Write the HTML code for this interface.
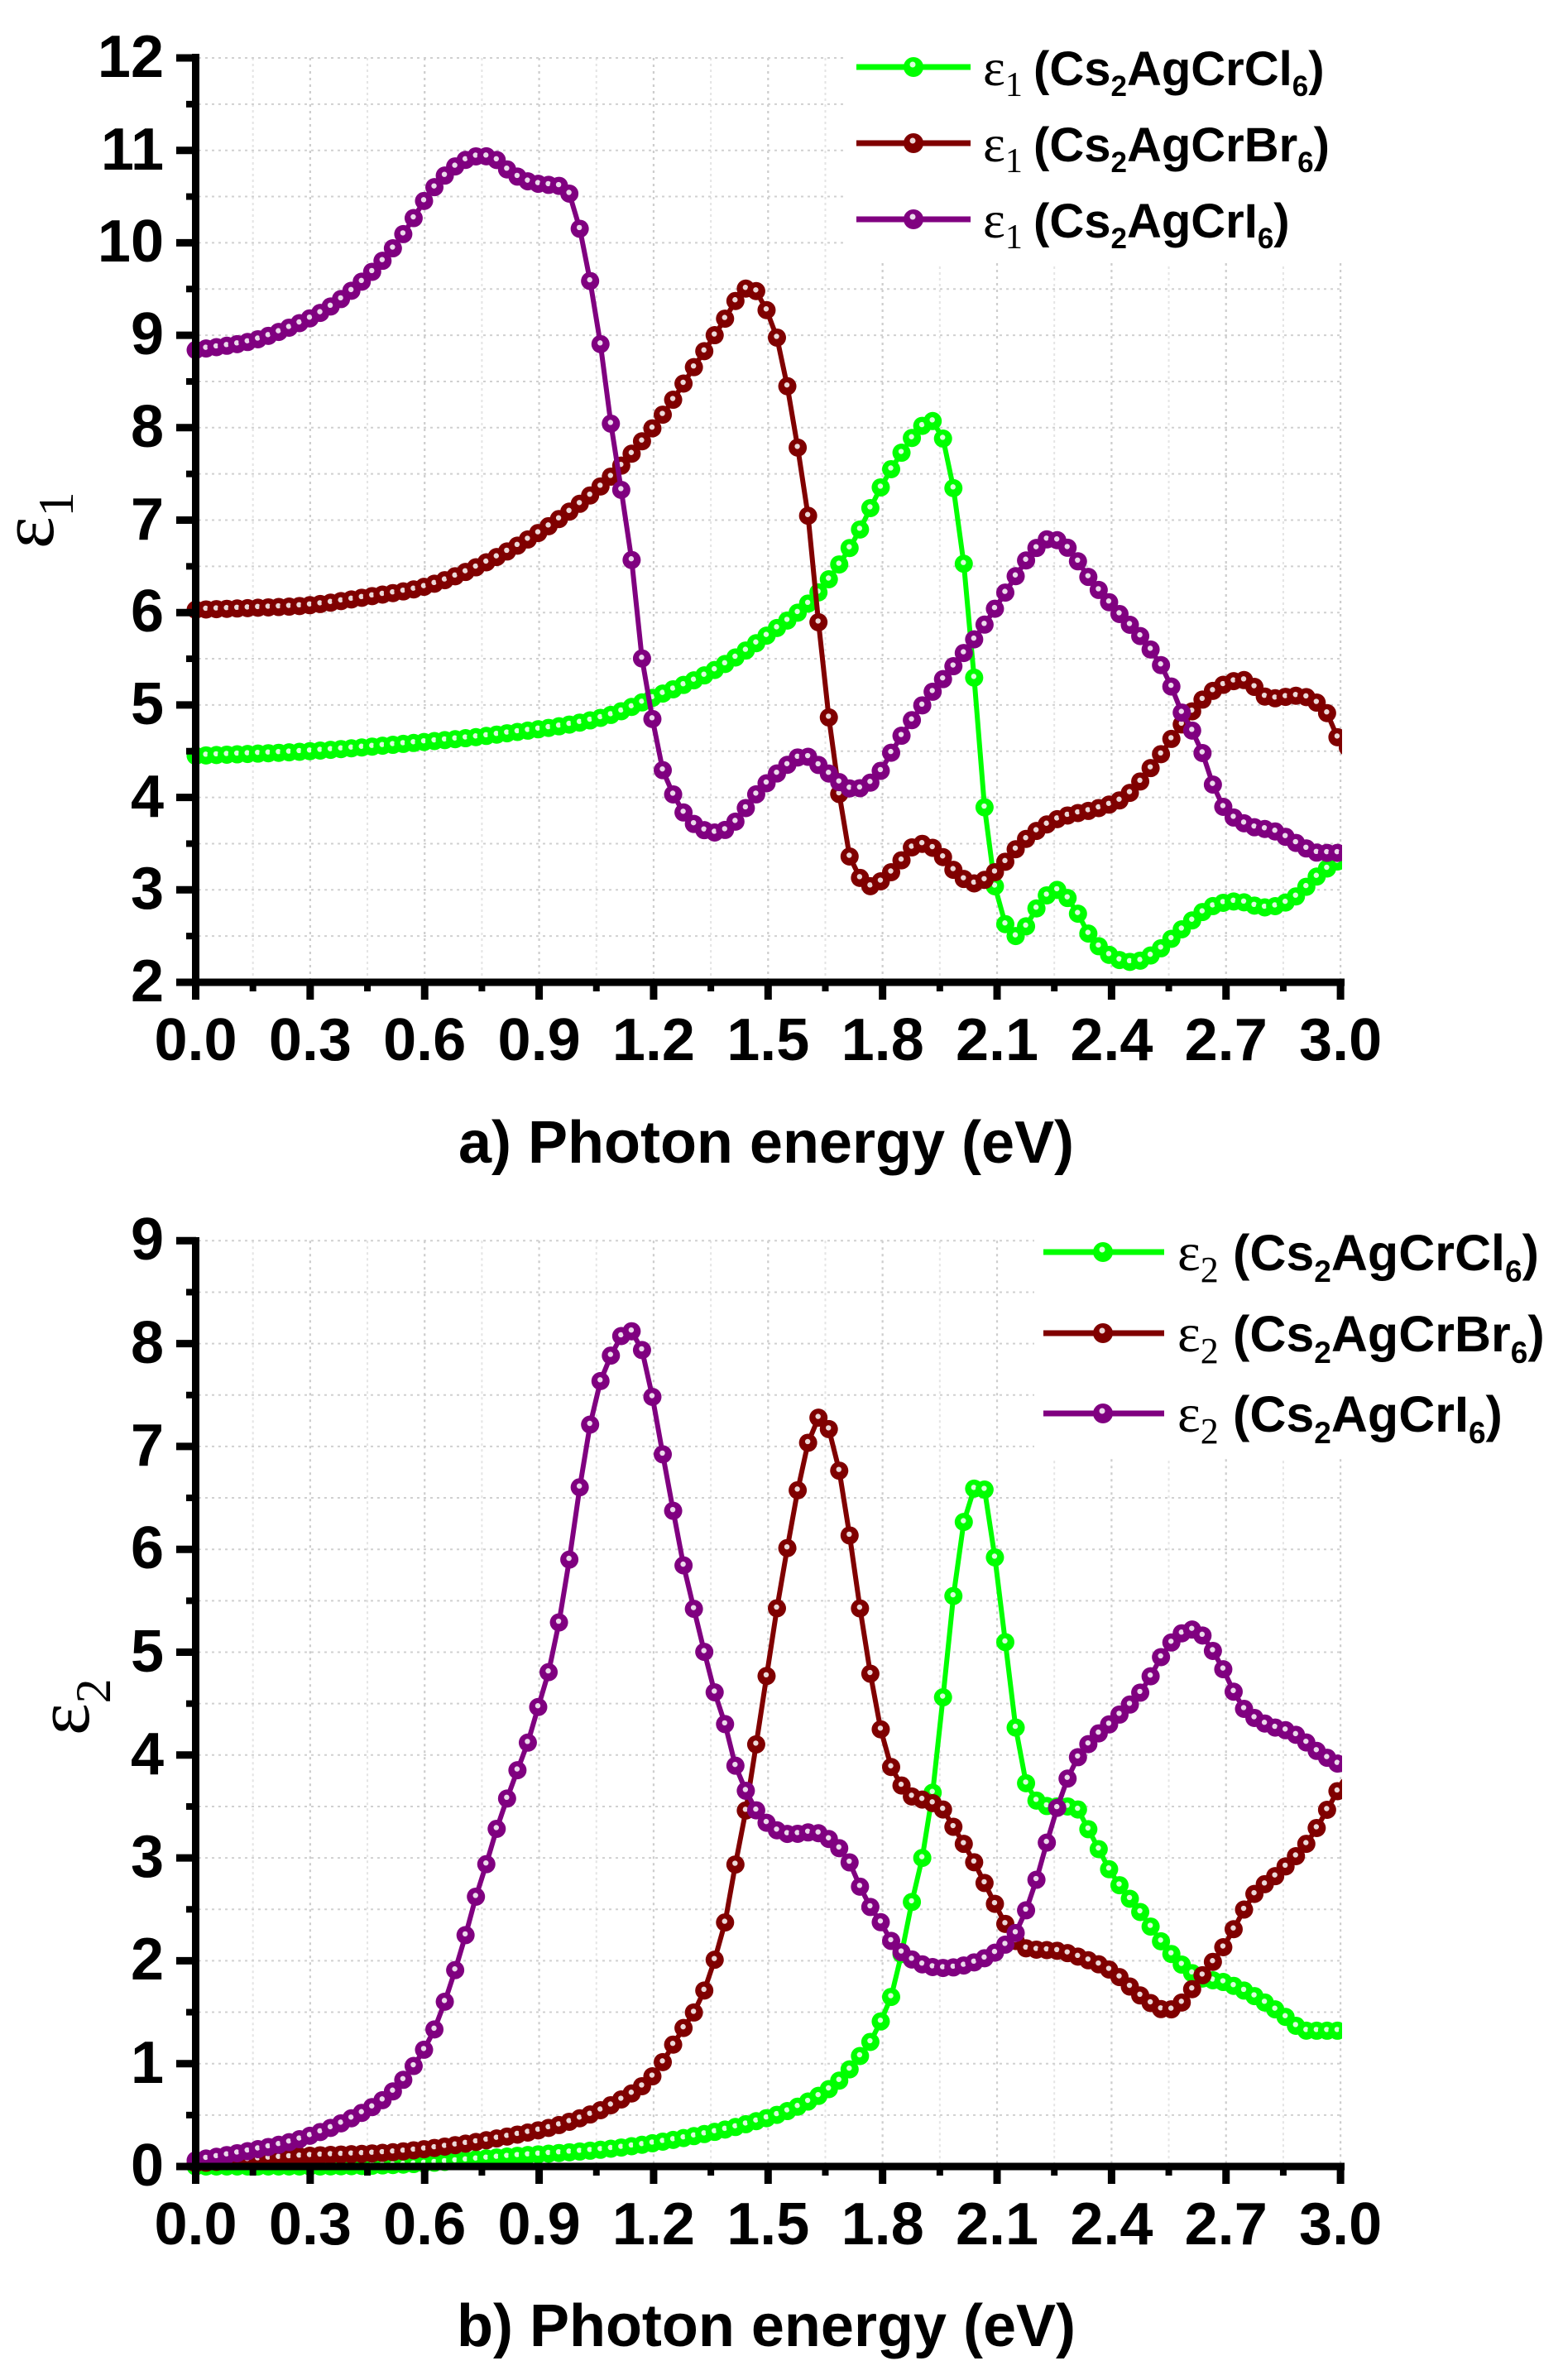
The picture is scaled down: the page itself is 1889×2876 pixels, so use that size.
<!DOCTYPE html>
<html>
<head>
<meta charset="utf-8">
<style>
html,body{margin:0;padding:0;background:#fff;width:1889px;height:2876px;overflow:hidden;}
svg{display:block;}
</style>
</head>
<body>
<svg id="s" width="1889" height="2876" viewBox="0 0 1889 2876" xmlns="http://www.w3.org/2000/svg" font-family="'Liberation Sans', Arial, sans-serif">
<defs>
<clipPath id="cpA"><rect x="150" y="0" width="1472" height="1300"/></clipPath>
<clipPath id="cpB"><rect x="150" y="1400" width="1472" height="1300"/></clipPath>
</defs>
<rect width="1889" height="2876" fill="#fff"/>
<g id="grid"></g>
<!-- legend backgrounds -->
<rect x="1020" y="62" width="610" height="256" fill="#fff"/>
<rect x="1250" y="1492" width="639" height="270" fill="#fff"/>
<g id="dataA" clip-path="url(#cpA)"></g>
<g id="dataB" clip-path="url(#cpB)"></g>
<g id="axes"></g>

<!-- Panel a axis lines -->
<line x1="236.5" y1="65" x2="236.5" y2="1191" stroke="#000" stroke-width="9"/>
<line x1="232" y1="1187" x2="1625" y2="1187" stroke="#000" stroke-width="9"/>
<!-- Panel b axis lines -->
<line x1="236.5" y1="1495" x2="236.5" y2="2622" stroke="#000" stroke-width="9"/>
<line x1="232" y1="2618" x2="1625" y2="2618" stroke="#000" stroke-width="9"/>

<!-- Panel a y tick labels -->
<g font-size="72" font-weight="bold" text-anchor="end" fill="#000">
<text x="198" y="1210">2</text>
<text x="198" y="1098">3</text>
<text x="198" y="987">4</text>
<text x="198" y="875">5</text>
<text x="198" y="763">6</text>
<text x="198" y="652">7</text>
<text x="198" y="540">8</text>
<text x="198" y="428">9</text>
<text x="198" y="316">10</text>
<text x="198" y="205">11</text>
<text x="198" y="93">12</text>
</g>
<!-- Panel a x tick labels -->
<g font-size="72" font-weight="bold" text-anchor="middle" fill="#000">
<text x="236.5" y="1281">0.0</text>
<text x="374.9" y="1281">0.3</text>
<text x="513.2" y="1281">0.6</text>
<text x="651.6" y="1281">0.9</text>
<text x="789.9" y="1281">1.2</text>
<text x="928.3" y="1281">1.5</text>
<text x="1066.7" y="1281">1.8</text>
<text x="1205" y="1281">2.1</text>
<text x="1343.4" y="1281">2.4</text>
<text x="1481.7" y="1281">2.7</text>
<text x="1620.1" y="1281">3.0</text>
</g>
<text x="926" y="1405" font-size="72" font-weight="bold" text-anchor="middle">a) Photon energy (eV)</text>
<text transform="translate(64,663) rotate(-90)" font-family="'Liberation Serif', serif" font-size="92">ε<tspan font-size="60" dy="24">1</tspan></text>

<!-- Panel b y tick labels -->
<g font-size="72" font-weight="bold" text-anchor="end" fill="#000">
<text x="198" y="2641">0</text>
<text x="198" y="2517">1</text>
<text x="198" y="2392">2</text>
<text x="198" y="2268">3</text>
<text x="198" y="2144">4</text>
<text x="198" y="2020">5</text>
<text x="198" y="1895">6</text>
<text x="198" y="1771">7</text>
<text x="198" y="1647">8</text>
<text x="198" y="1522">9</text>
</g>
<g font-size="72" font-weight="bold" text-anchor="middle" fill="#000">
<text x="236.5" y="2712">0.0</text>
<text x="374.9" y="2712">0.3</text>
<text x="513.2" y="2712">0.6</text>
<text x="651.6" y="2712">0.9</text>
<text x="789.9" y="2712">1.2</text>
<text x="928.3" y="2712">1.5</text>
<text x="1066.7" y="2712">1.8</text>
<text x="1205" y="2712">2.1</text>
<text x="1343.4" y="2712">2.4</text>
<text x="1481.7" y="2712">2.7</text>
<text x="1620.1" y="2712">3.0</text>
</g>
<text x="926" y="2835" font-size="72" font-weight="bold" text-anchor="middle">b) Photon energy (eV)</text>
<text transform="translate(107,2097) rotate(-90)" font-family="'Liberation Serif', serif" font-size="92">ε<tspan font-size="60" dy="26">2</tspan></text>

<!-- Legend a -->
<g>
<line x1="1035" y1="81" x2="1173" y2="81" stroke="#00ff00" stroke-width="7"/>
<circle cx="1104" cy="81" r="12" fill="#00ff00"/><circle cx="1103" cy="78" r="3.5" fill="#fff" fill-opacity="0.85"/>
<line x1="1035" y1="173" x2="1173" y2="173" stroke="#800000" stroke-width="7"/>
<circle cx="1104" cy="173" r="12" fill="#800000"/><circle cx="1103" cy="170" r="3.5" fill="#fff" fill-opacity="0.85"/>
<line x1="1035" y1="265" x2="1173" y2="265" stroke="#800080" stroke-width="7"/>
<circle cx="1104" cy="265" r="12" fill="#800080"/><circle cx="1103" cy="262" r="3.5" fill="#fff" fill-opacity="0.85"/>
<g font-size="58" font-weight="bold">
<text y="103"><tspan x="1188" font-family="'Liberation Serif', serif" font-weight="normal" font-size="64">ε</tspan><tspan font-family="'Liberation Serif', serif" font-weight="normal" font-size="42" dy="13">1</tspan><tspan x="1249" dy="-13">(Cs</tspan><tspan font-size="35" dy="13">2</tspan><tspan dy="-13">AgCrCl</tspan><tspan font-size="35" dy="13">6</tspan><tspan dy="-13">)</tspan></text>
<text y="195"><tspan x="1188" font-family="'Liberation Serif', serif" font-weight="normal" font-size="64">ε</tspan><tspan font-family="'Liberation Serif', serif" font-weight="normal" font-size="42" dy="13">1</tspan><tspan x="1249" dy="-13">(Cs</tspan><tspan font-size="35" dy="13">2</tspan><tspan dy="-13">AgCrBr</tspan><tspan font-size="35" dy="13">6</tspan><tspan dy="-13">)</tspan></text>
<text y="287"><tspan x="1188" font-family="'Liberation Serif', serif" font-weight="normal" font-size="64">ε</tspan><tspan font-family="'Liberation Serif', serif" font-weight="normal" font-size="42" dy="13">1</tspan><tspan x="1249" dy="-13">(Cs</tspan><tspan font-size="35" dy="13">2</tspan><tspan dy="-13">AgCrI</tspan><tspan font-size="35" dy="13">6</tspan><tspan dy="-13">)</tspan></text>
</g>
</g>

<!-- Legend b -->
<g>
<line x1="1261" y1="1513" x2="1407" y2="1513" stroke="#00ff00" stroke-width="7"/>
<circle cx="1333" cy="1513" r="12" fill="#00ff00"/><circle cx="1332" cy="1510" r="3.5" fill="#fff" fill-opacity="0.85"/>
<line x1="1261" y1="1611" x2="1407" y2="1611" stroke="#800000" stroke-width="7"/>
<circle cx="1333" cy="1611" r="12" fill="#800000"/><circle cx="1332" cy="1608" r="3.5" fill="#fff" fill-opacity="0.85"/>
<line x1="1261" y1="1708" x2="1407" y2="1708" stroke="#800080" stroke-width="7"/>
<circle cx="1333" cy="1708" r="12" fill="#800080"/><circle cx="1332" cy="1705" r="3.5" fill="#fff" fill-opacity="0.85"/>
<g font-size="61" font-weight="bold">
<text y="1535"><tspan x="1423" font-family="'Liberation Serif', serif" font-weight="normal" font-size="66">ε</tspan><tspan font-family="'Liberation Serif', serif" font-weight="normal" font-size="44" dy="14">2</tspan><tspan x="1490" dy="-14">(Cs</tspan><tspan font-size="37" dy="14">2</tspan><tspan dy="-14">AgCrCl</tspan><tspan font-size="37" dy="14">6</tspan><tspan dy="-14">)</tspan></text>
<text y="1633"><tspan x="1423" font-family="'Liberation Serif', serif" font-weight="normal" font-size="66">ε</tspan><tspan font-family="'Liberation Serif', serif" font-weight="normal" font-size="44" dy="14">2</tspan><tspan x="1490" dy="-14">(Cs</tspan><tspan font-size="37" dy="14">2</tspan><tspan dy="-14">AgCrBr</tspan><tspan font-size="37" dy="14">6</tspan><tspan dy="-14">)</tspan></text>
<text y="1730"><tspan x="1423" font-family="'Liberation Serif', serif" font-weight="normal" font-size="66">ε</tspan><tspan font-family="'Liberation Serif', serif" font-weight="normal" font-size="44" dy="14">2</tspan><tspan x="1490" dy="-14">(Cs</tspan><tspan font-size="37" dy="14">2</tspan><tspan dy="-14">AgCrI</tspan><tspan font-size="37" dy="14">6</tspan><tspan dy="-14">)</tspan></text>
</g>
</g>
</svg>
<script>
(function(){
var NS='http://www.w3.org/2000/svg';
function el(tag,attrs,parent){var e=document.createElementNS(NS,tag);for(var k in attrs)e.setAttribute(k,attrs[k]);parent.appendChild(e);return e;}
var X=function(e){return 236.5+e*461.2;};
var YA=function(v){return 1187-(v-2)*111.7;};
var YB=function(v){return 2618-v*124.3;};
var grid=document.getElementById('grid');
var axes=document.getElementById('axes');
var panels=[{Y:YA,vmin:2,vmax:12,top:70,bottom:1187},{Y:YB,vmin:0,vmax:9,top:1499.3,bottom:2618}];
panels.forEach(function(p){
  for(var k=1;k<=20;k++){
    var x=X(0.15*k);
    if(k%2===0) el('line',{x1:x,y1:p.top,x2:x,y2:p.bottom,stroke:'#cdcdcd','stroke-width':2.2,'stroke-dasharray':'3 5'},grid);
    else el('line',{x1:x,y1:p.top,x2:x,y2:p.bottom,stroke:'#e4e4e4','stroke-width':2,'stroke-dasharray':'3 4'},grid);
  }
  for(var v=p.vmin+0.5;v<=p.vmax+0.001;v+=0.5){
    var y=p.Y(v);
    el('line',{x1:240,y1:y,x2:1620,y2:y,stroke:'#d0d0d0','stroke-width':2,'stroke-dasharray':'3 5'},grid);
  }
  for(var k2=0;k2<=20;k2++){
    var x2=X(0.15*k2);
    if(k2%2===0) el('line',{x1:x2,y1:p.bottom,x2:x2,y2:p.bottom+21,stroke:'#000','stroke-width':9},axes);
    else el('line',{x1:x2,y1:p.bottom,x2:x2,y2:p.bottom+11,stroke:'#000','stroke-width':8},axes);
  }
  for(var v2=p.vmin;v2<=p.vmax+0.001;v2+=0.5){
    var y2=p.Y(v2);
    if(Math.abs(v2-Math.round(v2))<0.01) el('line',{x1:213,y1:y2,x2:237,y2:y2,stroke:'#000','stroke-width':9},axes);
    else el('line',{x1:225,y1:y2,x2:237,y2:y2,stroke:'#000','stroke-width':8},axes);
  }
});
function interp(pts){
  var n=pts.length,xs=pts.map(function(p){return p[0];}),ys=pts.map(function(p){return p[1];});
  var d=[],m=new Array(n),i;
  for(i=0;i<n-1;i++)d.push((ys[i+1]-ys[i])/(xs[i+1]-xs[i]));
  m[0]=d[0];m[n-1]=d[n-2];
  for(i=1;i<n-1;i++)m[i]=(d[i-1]*d[i]<=0)?0:(d[i-1]+d[i])/2;
  for(i=0;i<n-1;i++){
    if(d[i]===0){m[i]=0;m[i+1]=0;continue;}
    var a=m[i]/d[i],b=m[i+1]/d[i],s=a*a+b*b;
    if(s>9){var t=3/Math.sqrt(s);m[i]=t*a*d[i];m[i+1]=t*b*d[i];}
  }
  return function(x){
    if(x<=xs[0])return ys[0];
    if(x>=xs[n-1])return ys[n-1];
    var j=0;while(x>xs[j+1])j++;
    var h=xs[j+1]-xs[j],t=(x-xs[j])/h,t2=t*t,t3=t2*t;
    return (2*t3-3*t2+1)*ys[j]+(t3-2*t2+t)*h*m[j]+(-2*t3+3*t2)*ys[j+1]+(t3-t2)*h*m[j+1];
  };
}
function series(pts,Y,color,g){
  var f=interp(pts),dstr='',P=[];
  for(var i=0;i<=111;i++){
    var e=i*0.0272,x=X(e),y=Y(f(e));
    P.push([x,y]);
    dstr+=(i?'L':'M')+x.toFixed(1)+' '+y.toFixed(1);
  }
  el('path',{d:dstr,fill:'none',stroke:color,'stroke-width':6},g);
  P.forEach(function(q){
    el('circle',{cx:q[0],cy:q[1],r:11,fill:color},g);
    el('circle',{cx:q[0]-0.5,cy:q[1]-1.5,r:3.2,fill:'#fff','fill-opacity':0.85},g);
  });
}
var A_G=[[0,4.45],[0.3,4.5],[0.6,4.6],[0.79,4.68],[1.078,4.88],[1.193,5.07],[1.365,5.39],[1.509,5.79],[1.624,6.18],[1.724,6.77],[1.796,7.36],[1.853,7.75],[1.904,8.02],[1.925,8.08],[1.945,8.0],[1.968,7.75],[1.985,7.36],[2.005,6.87],[2.02,6.18],[2.038,5.4],[2.052,4.61],[2.068,3.86],[2.085,3.27],[2.105,2.84],[2.13,2.56],[2.15,2.5],[2.175,2.6],[2.21,2.84],[2.255,3.0],[2.298,2.84],[2.342,2.51],[2.4,2.28],[2.456,2.22],[2.514,2.32],[2.586,2.58],[2.658,2.81],[2.73,2.875],[2.8,2.81],[2.873,2.9],[2.945,3.17],[3.0,3.33]];
var A_R=[[0,6.03],[0.15,6.05],[0.3,6.08],[0.45,6.17],[0.6,6.28],[0.75,6.52],[0.934,6.96],[1.078,7.43],[1.163,7.82],[1.236,8.21],[1.308,8.67],[1.38,9.13],[1.423,9.42],[1.451,9.52],[1.479,9.42],[1.509,9.13],[1.535,8.8],[1.566,8.05],[1.588,7.53],[1.609,6.9],[1.626,6.15],[1.645,5.37],[1.667,4.61],[1.688,3.99],[1.705,3.5],[1.731,3.2],[1.767,3.04],[1.825,3.2],[1.896,3.5],[1.94,3.43],[1.997,3.17],[2.04,3.07],[2.097,3.2],[2.17,3.53],[2.255,3.76],[2.37,3.89],[2.44,4.02],[2.514,4.38],[2.586,4.8],[2.658,5.13],[2.745,5.27],[2.816,5.07],[2.887,5.1],[2.945,5.0],[2.98,4.8],[3.0,4.54]];
var A_P=[[0,8.84],[0.149,8.94],[0.255,9.1],[0.342,9.28],[0.419,9.52],[0.497,9.84],[0.555,10.16],[0.603,10.48],[0.661,10.76],[0.709,10.9],[0.748,10.94],[0.787,10.9],[0.826,10.76],[0.874,10.66],[0.941,10.62],[0.964,10.6],[0.99,10.43],[1.013,10.02],[1.042,9.39],[1.07,8.64],[1.092,7.92],[1.12,7.2],[1.149,6.35],[1.17,5.49],[1.2,4.78],[1.225,4.28],[1.257,3.99],[1.293,3.76],[1.365,3.62],[1.41,3.72],[1.466,4.02],[1.538,4.31],[1.594,4.45],[1.652,4.28],[1.724,4.09],[1.781,4.21],[1.839,4.6],[1.91,5.03],[1.98,5.39],[2.054,5.79],[2.127,6.25],[2.183,6.6],[2.24,6.8],[2.285,6.7],[2.342,6.37],[2.413,6.02],[2.486,5.69],[2.543,5.33],[2.586,4.9],[2.622,4.64],[2.65,4.35],[2.673,4.05],[2.7,3.86],[2.758,3.7],[2.83,3.63],[2.887,3.5],[2.945,3.4],[3.0,3.4]];
var B_G=[[0,0.0],[0.276,0.0],[0.552,0.02],[0.829,0.1],[1.105,0.18],[1.312,0.3],[1.45,0.42],[1.588,0.6],[1.685,0.83],[1.74,1.07],[1.782,1.3],[1.809,1.54],[1.837,1.81],[1.865,2.4],[1.892,2.78],[1.913,3.19],[1.934,3.72],[1.948,4.26],[1.968,4.85],[1.982,5.44],[2.003,5.94],[2.017,6.38],[2.037,6.59],[2.065,6.59],[2.079,6.35],[2.093,5.97],[2.106,5.47],[2.127,4.96],[2.141,4.49],[2.155,4.11],[2.17,3.8],[2.2,3.57],[2.25,3.5],[2.3,3.5],[2.35,3.2],[2.4,2.85],[2.48,2.45],[2.551,2.09],[2.624,1.85],[2.696,1.79],[2.768,1.67],[2.84,1.5],[2.913,1.32],[3.0,1.32]];
var B_R=[[0,0.03],[0.276,0.1],[0.552,0.15],[0.829,0.3],[0.967,0.42],[1.105,0.63],[1.2,0.89],[1.27,1.3],[1.312,1.54],[1.34,1.78],[1.36,2.01],[1.381,2.28],[1.402,2.63],[1.418,3.02],[1.443,3.49],[1.464,3.99],[1.485,4.49],[1.506,5.02],[1.526,5.49],[1.547,5.94],[1.568,6.38],[1.588,6.77],[1.609,7.09],[1.63,7.28],[1.65,7.24],[1.671,7.03],[1.692,6.65],[1.713,6.15],[1.733,5.62],[1.754,5.11],[1.775,4.64],[1.793,4.29],[1.809,4.02],[1.837,3.78],[1.872,3.61],[1.92,3.55],[1.961,3.46],[1.989,3.28],[2.017,3.11],[2.044,2.93],[2.072,2.72],[2.099,2.52],[2.134,2.28],[2.166,2.13],[2.25,2.1],[2.32,2.03],[2.4,1.9],[2.48,1.65],[2.544,1.52],[2.58,1.58],[2.624,1.79],[2.696,2.15],[2.768,2.62],[2.84,2.86],[2.913,3.15],[3.0,3.7]];
var B_P=[[0,0.06],[0.138,0.15],[0.276,0.27],[0.414,0.48],[0.511,0.71],[0.566,0.95],[0.608,1.2],[0.642,1.48],[0.67,1.81],[0.698,2.1],[0.718,2.43],[0.746,2.75],[0.773,3.08],[0.801,3.43],[0.829,3.7],[0.856,3.99],[0.884,4.26],[0.905,4.58],[0.936,4.96],[0.96,5.47],[0.988,6.11],[1.015,6.82],[1.043,7.38],[1.07,7.74],[1.098,7.95],[1.119,8.09],[1.146,8.12],[1.174,7.88],[1.2,7.42],[1.229,6.82],[1.257,6.26],[1.282,5.78],[1.309,5.37],[1.333,5.0],[1.36,4.61],[1.388,4.29],[1.409,3.96],[1.436,3.7],[1.464,3.49],[1.506,3.31],[1.561,3.23],[1.616,3.25],[1.657,3.19],[1.713,2.96],[1.754,2.61],[1.796,2.37],[1.823,2.19],[1.878,2.01],[1.961,1.93],[2.044,1.99],[2.113,2.13],[2.155,2.31],[2.2,2.75],[2.25,3.4],[2.3,3.9],[2.35,4.15],[2.4,4.32],[2.48,4.63],[2.551,5.07],[2.613,5.22],[2.689,4.86],[2.718,4.63],[2.747,4.45],[2.805,4.3],[2.877,4.21],[2.949,4.01],[3.0,3.9]];
var gA=document.getElementById('dataA'),gB=document.getElementById('dataB');
series(A_G,YA,'#00ff00',gA);
series(A_R,YA,'#800000',gA);
series(A_P,YA,'#800080',gA);
series(B_G,YB,'#00ff00',gB);
series(B_R,YB,'#800000',gB);
series(B_P,YB,'#800080',gB);
})();
</script>
</body>
</html>
